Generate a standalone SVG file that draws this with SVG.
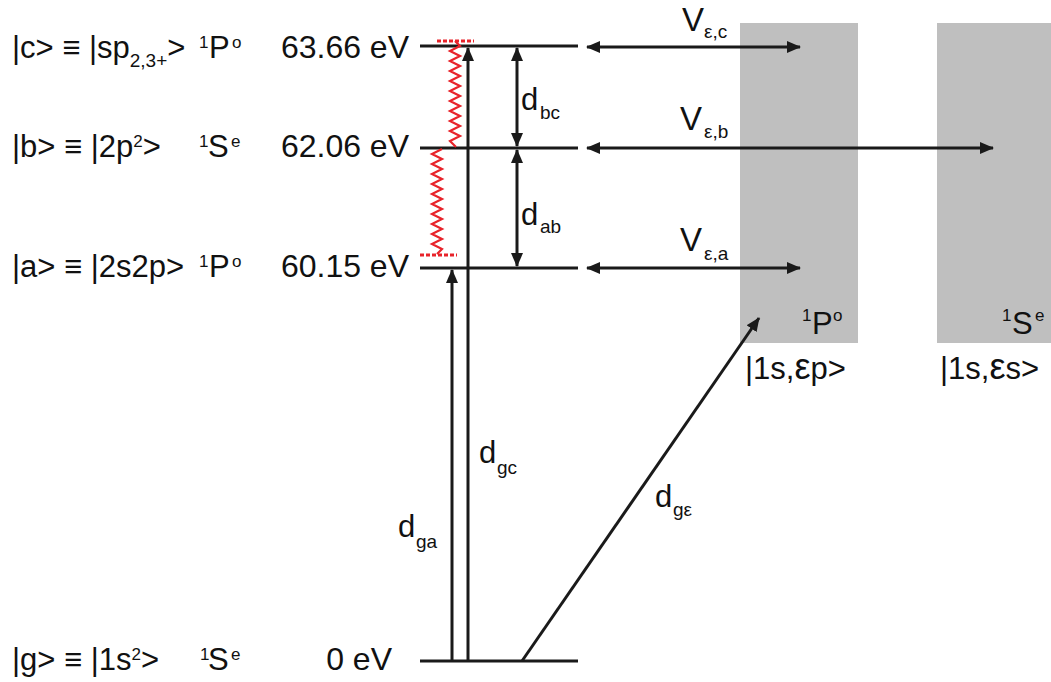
<svg xmlns="http://www.w3.org/2000/svg" width="1051" height="682" viewBox="0 0 1051 682">
<defs>
<style>
text{font-family:"Liberation Sans",Arial,sans-serif;fill:#111;}
.t{font-size:31px;}
.e{font-size:32px;}
.v{font-size:33px;}
.s{font-size:19px;}
.u{font-size:17px;}
.lvl{stroke:#1a1a1a;stroke-width:3;fill:none;}
.arr{stroke:#1a1a1a;stroke-width:3;fill:none;}
.red{stroke:#e8232a;stroke-width:2.2;fill:none;}
.dash{stroke:#e8232a;stroke-width:3;stroke-dasharray:4,2;fill:none;}
.band{fill:#bfbfbf;}
</style>
<marker id="ah" viewBox="0 0 14 12" refX="13" refY="6" markerWidth="14" markerHeight="12" markerUnits="userSpaceOnUse" orient="auto-start-reverse">
<path d="M0,0 L14,6 L0,12 z" fill="#1a1a1a"/>
</marker>
</defs>

<g id="continuum-p">
<rect class="band" x="740" y="23" width="118" height="320"/>
<text class="u" x="802" y="321">1</text>
<text class="t" x="812" y="334">P</text>
<text class="u" x="833" y="321">o</text>
<text class="t" x="745" y="379"><tspan>|1s,</tspan><tspan font-size="36">ε</tspan><tspan>p&gt;</tspan></text>
</g>
<g id="continuum-s">
<rect class="band" x="937" y="23" width="114" height="320"/>
<text class="u" x="1002" y="321">1</text>
<text class="t" x="1012" y="334">S</text>
<text class="u" x="1035" y="321">e</text>
<text class="t" x="940" y="379"><tspan>|1s,</tspan><tspan font-size="36">ε</tspan><tspan>s&gt;</tspan></text>
</g>

<g id="level-c">
<line class="lvl" x1="420" y1="46" x2="578" y2="46"/>
<text class="t" x="12" y="58">|c&gt; ≡ |sp<tspan class="s" dy="9">2,3+</tspan><tspan dy="-9">&gt;</tspan></text>
<text class="u" x="199" y="48">1</text>
<text class="t" x="209" y="58">P</text>
<text class="u" x="232" y="48">o</text>
<text class="e" x="409" y="58" text-anchor="end">63.66 eV</text>
</g>
<g id="level-b">
<line class="lvl" x1="420" y1="148" x2="578" y2="148"/>
<text class="t" x="12" y="157">|b&gt; ≡ |2p<tspan class="u" dy="-10">2</tspan><tspan dy="10">&gt;</tspan></text>
<text class="u" x="199" y="147">1</text>
<text class="t" x="208" y="157">S</text>
<text class="u" x="231" y="147">e</text>
<text class="e" x="409" y="157" text-anchor="end">62.06 eV</text>
</g>
<g id="level-a">
<line class="lvl" x1="420" y1="268" x2="578" y2="268"/>
<text class="t" x="12" y="277">|a&gt; ≡ |2s2p&gt;</text>
<text class="u" x="199" y="267">1</text>
<text class="t" x="209" y="277">P</text>
<text class="u" x="232" y="267">o</text>
<text class="e" x="409" y="277" text-anchor="end">60.15 eV</text>
</g>
<g id="level-g">
<line class="lvl" x1="420" y1="661" x2="578" y2="661"/>
<text class="t" x="12" y="670">|g&gt; ≡ |1s<tspan class="u" dy="-10">2</tspan><tspan dy="10">&gt;</tspan></text>
<text class="u" x="200" y="660">1</text>
<text class="t" x="208" y="670">S</text>
<text class="u" x="231" y="660">e</text>
<text class="e" x="392" y="670" text-anchor="end">0 eV</text>
</g>

<g id="connectors">
<line class="arr" x1="452" y1="661" x2="452" y2="270" marker-end="url(#ah)"/>
<line class="arr" x1="468" y1="661" x2="468" y2="48" marker-end="url(#ah)"/>
<line class="arr" x1="522" y1="661" x2="759" y2="318" stroke-width="2.5" marker-end="url(#ah)"/>
<line class="arr" x1="517" y1="48" x2="517" y2="146" marker-start="url(#ah)" marker-end="url(#ah)"/>
<line class="arr" x1="517" y1="150" x2="517" y2="266" marker-start="url(#ah)" marker-end="url(#ah)"/>
<line class="arr" x1="587" y1="47" x2="800" y2="47" marker-start="url(#ah)" marker-end="url(#ah)"/>
<line class="arr" x1="587" y1="148" x2="993" y2="148" marker-start="url(#ah)" marker-end="url(#ah)"/>
<line class="arr" x1="587" y1="268" x2="800" y2="268" marker-start="url(#ah)" marker-end="url(#ah)"/>
<line class="dash" x1="437" y1="41" x2="474" y2="41"/>
<line class="dash" x1="420" y1="255" x2="457" y2="255"/>
<polyline class="red" points="455,41 460,46 450,51 460,56 450,61 460,66 450,71 460,76 450,81 460,86 450,91 460,96 450,101 460,106 450,111 460,116 450,121 460,126 450,131 460,136 450,141 456,147"/>
<polyline class="red" points="442,149 432,154 442,159 432,164 442,169 432,174 442,179 432,184 442,189 432,194 442,199 432,204 442,209 432,214 442,219 432,224 442,229 432,234 442,239 432,244 442,249 437,254"/>
</g>

<g id="labels">
<text class="t" x="521" y="110">d</text><text class="s" x="540" y="119">bc</text>
<text class="t" x="521" y="225">d</text><text class="s" x="540" y="233">ab</text>
<text class="t" x="479" y="463">d</text><text class="s" x="497" y="474">gc</text>
<text class="t" x="398" y="537">d</text><text class="s" x="416" y="548">ga</text>
<text class="t" x="655" y="507">d</text><text class="s" x="673" y="516">gε</text>
<text class="v" x="682" y="31">V</text><text class="s" x="704" y="38">ε,c</text>
<text class="v" x="680" y="130">V</text><text class="s" x="704" y="138">ε,b</text>
<text class="v" x="680" y="251">V</text><text class="s" x="704" y="260">ε,a</text>
</g>
</svg>
